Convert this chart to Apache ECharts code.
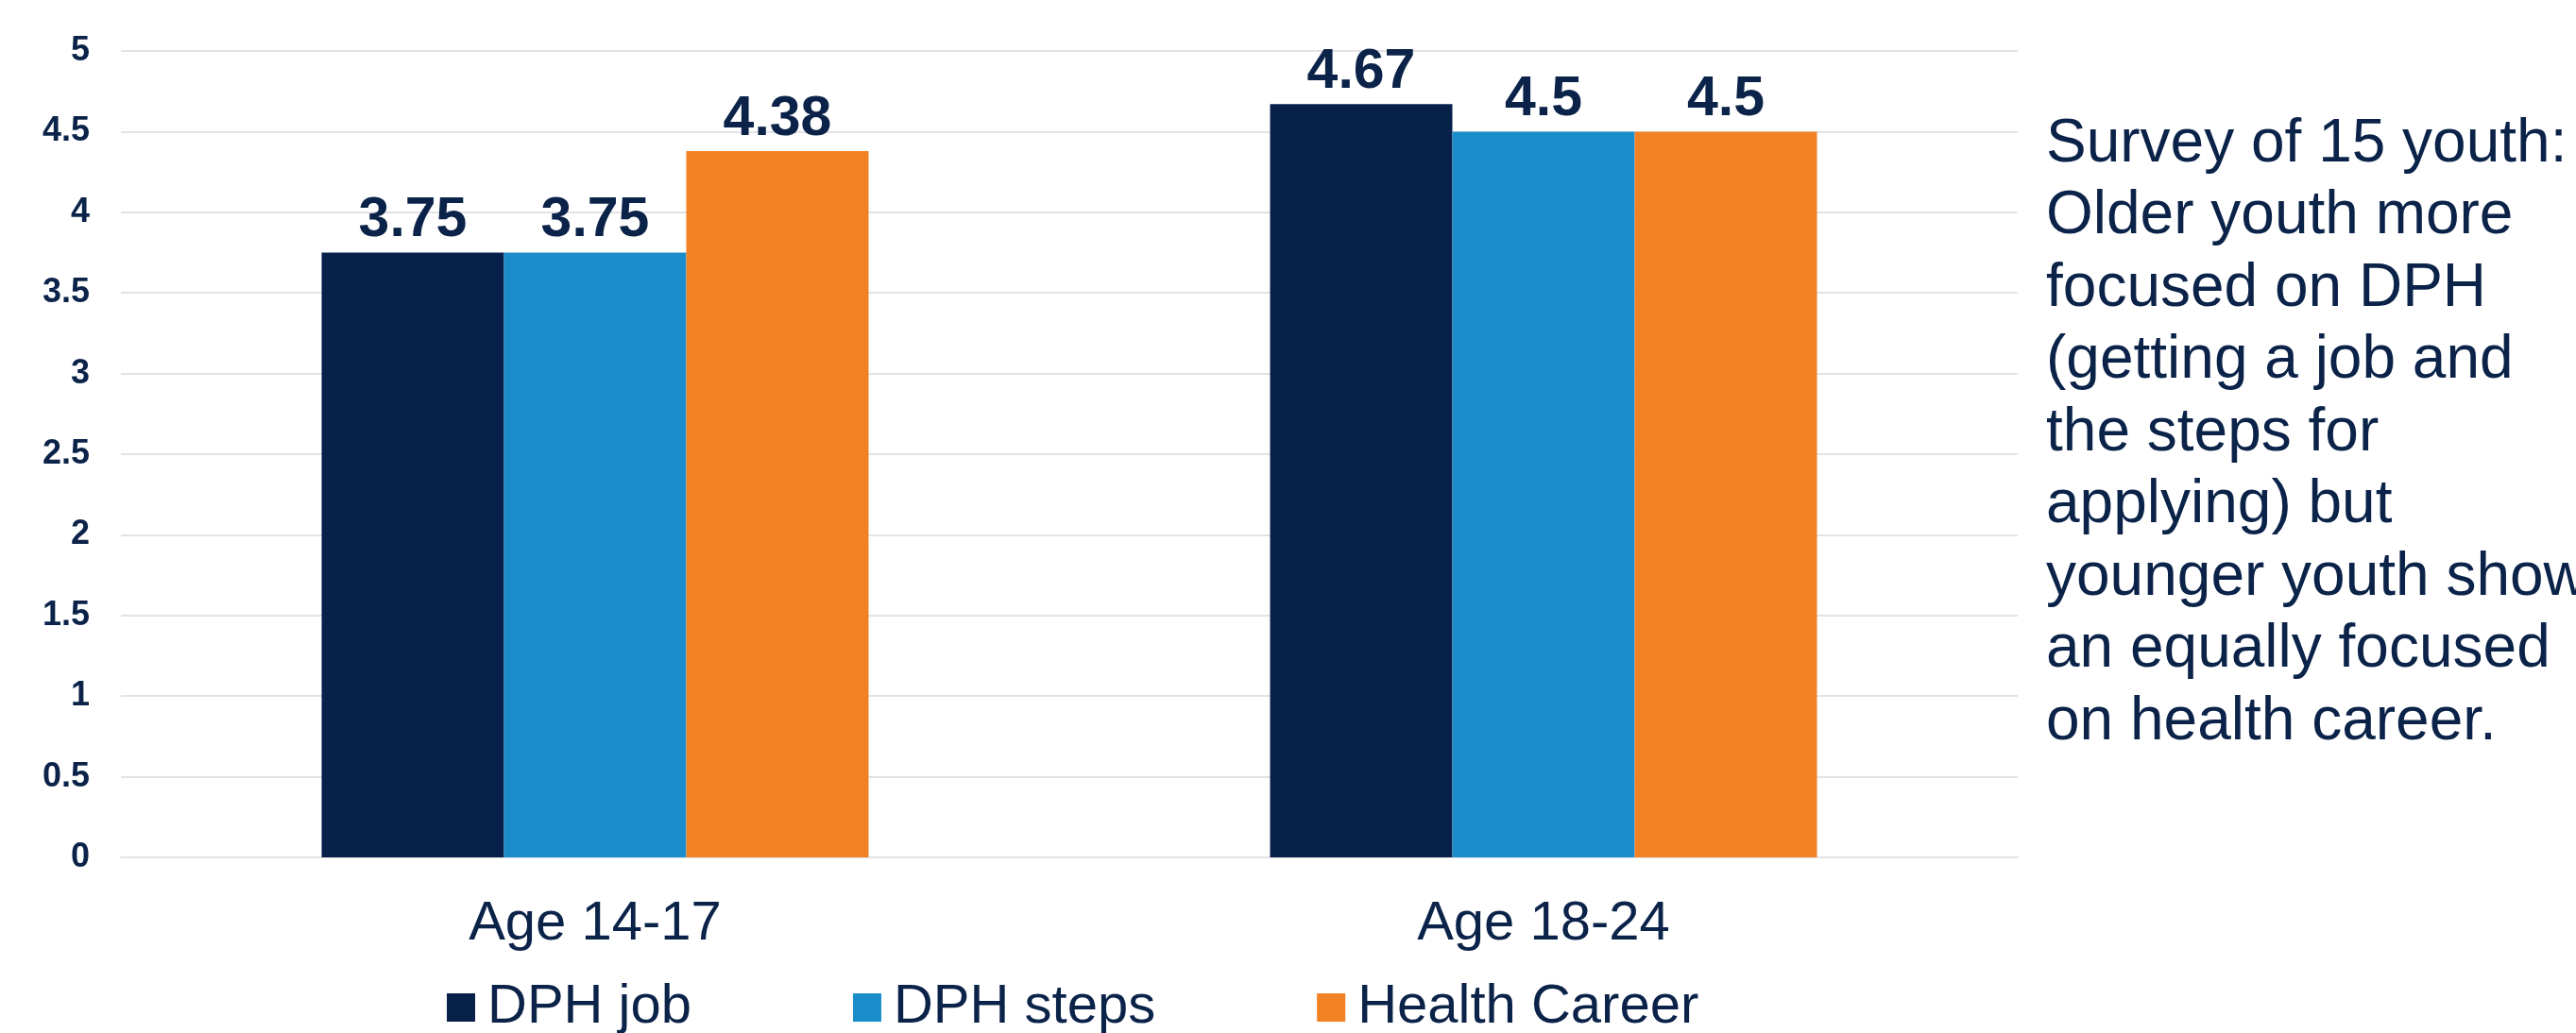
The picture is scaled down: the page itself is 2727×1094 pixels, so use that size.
<!doctype html>
<html>
<head>
<meta charset="UTF-8">
<title>Survey of 15 youth</title>
<script src="https://cdn.jsdelivr.net/npm/echarts@6/dist/echarts.min.js"></script>
<style>
  html, body { margin: 0; padding: 0; background: #fff; }
  #main { width: 2727px; height: 1094px; }
</style>
</head>
<body>
<div id="main"></div>
<script>
// data
var categories = ['Age 14-17', 'Age 18-24'];
var seriesNames = ['DPH job', 'DPH steps', 'Health Career'];
var dphJob = [3.75, 4.67];
var dphSteps = [3.75, 4.5];
var healthCareer = [4.38, 4.5];
var colors = ['#07214a', '#1a8dca', '#f28124'];
var noteLines = [
  'Survey of 15 youth:',
  'Older youth more',
  'focused on DPH',
  '(getting a job and',
  'the steps for',
  'applying) but',
  'younger youth show',
  'an equally focused',
  'on health career.'
];

var navy = '#0b2349';
var font = '"Liberation Sans", Arial, sans-serif';

var myChart = echarts.init(document.getElementById('main'));

function bar(name, data, color) {
  return {
    name: name,
    type: 'bar',
    data: data,
    barWidth: 193,
    barGap: '0%',
    itemStyle: { color: color },
    label: {
      show: true,
      position: 'top',
      distance: 4,
      color: navy,
      fontFamily: font,
      fontWeight: 'bold',
      fontSize: 59
    }
  };
}

var option = {
  animation: false,
  backgroundColor: '#fff',
  textStyle: { fontFamily: font },
  grid: { left: 128, right: 2727 - 2136, top: 54, bottom: 1094 - 908 },
  legend: {
    data: seriesNames,
    left: 468,
    top: 1033,
    itemWidth: 30,
    itemHeight: 30,
    itemGap: 171,
    icon: 'rect',
    textStyle: { color: navy, fontSize: 58, fontFamily: font, padding: [0, 0, 0, 8] }
  },
  xAxis: {
    type: 'category',
    data: categories,
    axisTick: { show: false },
    axisLine: { lineStyle: { color: '#e3e3e6', width: 2 } },
    axisLabel: { color: navy, fontSize: 58, fontFamily: font, margin: 42 }
  },
  yAxis: {
    type: 'value',
    min: 0,
    max: 5,
    interval: 0.5,
    axisLine: { show: false },
    axisTick: { show: false },
    splitLine: { lineStyle: { color: '#e3e3e6', width: 2 } },
    axisLabel: { color: navy, fontSize: 36, fontWeight: 'bold', fontFamily: font, margin: 33 }
  },
  graphic: [{
    type: 'text',
    left: 2166,
    top: 115,
    style: {
      text: noteLines.join('\n'),
      fill: navy,
      font: '64px ' + font,
      lineHeight: 76.5
    }
  }],
  series: [
    bar(seriesNames[0], dphJob, colors[0]),
    bar(seriesNames[1], dphSteps, colors[1]),
    bar(seriesNames[2], healthCareer, colors[2])
  ]
};

myChart.setOption(option);
</script>
</body>
</html>
